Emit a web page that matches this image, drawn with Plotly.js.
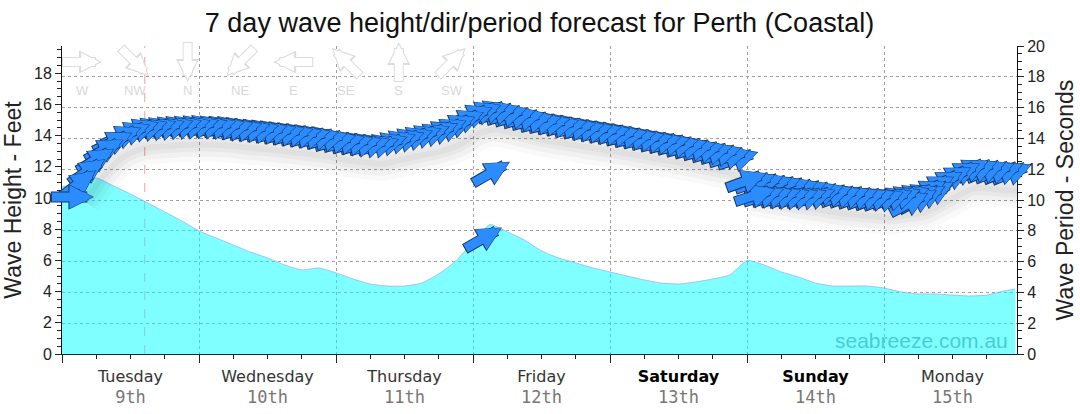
<!DOCTYPE html>
<html><head><meta charset="utf-8">
<script src="https://cdn.plot.ly/plotly-3.0.1.min.js"></script>
<style>html,body{margin:0;padding:0;background:#fff;} #chart{width:1080px;height:414px;}</style>
</head><body><div id="chart"></div>
<script>
// ---------------- DATA ----------------
const heightHours = [0,3,6,9,12,15,18,21,24,27,30,33,36,39,42,45,48,51,54,57,60,63,66,69,72,75,78,81,84,87,90,93,96,99,102,105,108,111,114,117,120,123,126,129,132,135,138,141,144,147,150,153,156,159,162,165,167];
const heightFeet = [10.71,11.03,11.29,10.78,10.26,9.69,9.11,8.53,7.89,7.44,6.99,6.54,6.16,5.71,5.39,5.52,5.20,4.81,4.49,4.36,4.36,4.55,5.13,5.97,7.18,8.30,7.83,7.31,6.61,6.16,5.84,5.52,5.26,5.00,4.75,4.55,4.49,4.62,4.81,5.07,6.00,5.71,5.26,4.94,4.55,4.36,4.36,4.36,4.23,3.98,3.85,3.85,3.78,3.72,3.78,4.04,4.17];

const periodHours = [3,4.5,6,7.5,9,10.5,12,13.5,15,16.5,18,19.5,21,22.5,24,25.5,27,28.5,30,31.5,33,34.5,36,37.5,39,40.5,42,43.5,45,46.5,48,49.5,51,52.5,54,55.5,57,58.5,60,61.5,63,64.5,66,67.5,69,70.5,72,73.5,75,76.5,78,79.5,81,82.5,84,85.5,87,88.5,90,91.5,93,94.5,96,97.5,99,100.5,102,103.5,105,106.5,108,109.5,111,112.5,114,115.5,117,118.5,120,121.5,123,124.5,126,127.5,129,130.5,132,133.5,135,136.5,138,139.5,141,142.5,144,145.5,147,148.5,150,151.5,153,154.5,156,157.5,159,160.5,162,163.5,165,166.5];
const periodSeconds = [11.10,11.88,12.63,13.28,13.79,14.16,14.40,14.59,14.64,14.68,14.71,14.75,14.77,14.79,14.81,14.78,14.76,14.73,14.66,14.60,14.55,14.50,14.45,14.39,14.32,14.26,14.19,14.12,14.06,13.96,13.83,13.76,13.69,13.62,13.57,13.57,13.69,13.82,13.94,14.06,14.18,14.29,14.45,14.62,14.87,15.19,15.52,15.71,15.78,15.69,15.56,15.44,15.31,15.18,15.05,14.96,14.87,14.79,14.69,14.60,14.51,14.43,14.34,14.25,14.15,14.05,13.96,13.86,13.77,13.68,13.57,13.46,13.35,13.23,13.12,13.01,12.82,12.69,11.27,11.17,11.08,10.99,10.91,10.82,10.73,10.64,10.55,10.45,10.36,10.29,10.25,10.19,10.14,10.10,10.06,10.13,10.21,10.29,10.36,10.62,10.91,11.20,11.49,11.77,11.98,11.96,11.92,11.87,11.83,11.79];
const periodDirDeg = [233,236,239,242,245,247,249,
  251,252,252,253,253,253,254,254,254,254,255,255,255,255,255,255,255,255,255,255,255,255,255,255,
  255,255,255,254,254,253,252,252,251,250,249,248,247,247,248,249,
  250,251,252,253,254,255,256,256,257,257,257,257,257,257,257,257,257,257,257,257,257,256,256,256,255,255,255,254,254,253,252,
  250,250,250,250,250,250,250,250,250,250,250,250,250,250,250,250,250,250,250,250,248,246,244,243,243,244,245,246,247,248,248,248];

// second (lower) row of period arrows
const period2Hours = [121.5,123,124.5,126,127.5,129,130.5,132,148.5,150,151.5,153];
const period2Seconds = [10.32,10.29,10.26,10.23,10.19,10.19,10.19,10.23,9.81,10.00,10.26,10.52];
const period2DirDeg = [252,252,252,252,252,252,252,252,242,242,242,242];

// isolated swell arrows
const swellMarkHours = [1.9, 73.9];
const swellMarkFeet = [10.07, 7.44];
const swellMarkDirDeg = [270, 240];
const swellPeriodMarkHours = [75.3];
const swellPeriodMarkSeconds = [11.8];
const swellPeriodMarkDirDeg = [240];

const dayNames = ['Tuesday','Wednesday','Thursday','Friday','Saturday','Sunday','Monday'];
const dayDates = ['9th','10th','11th','12th','13th','14th','15th'];
const dayWeekend = [false,false,false,false,true,true,false];

const compassLabels = ['W','NW','N','NE','E','SE','S','SW'];
const compassDirDeg = [270,315,0,45,90,135,180,225];

const nowHour = 14.5;
const xEnd = 167.3;

// ---------------- STYLE / HELPERS ----------------
const PLOT_L = 62, PLOT_R = 1017, PLOT_T = 46, PLOT_B = 354;
const ARROW = {len: 42, w: 9, s: 0.52, fill: '#2a8cff', edge: '#1a3563'};

function arrowAnn(x, y, xref, yref, dirDeg, len, width, size, color, extraTail, tipBack) {
  const a = (270 - dirDeg) * Math.PI / 180;
  const c = Math.cos(a), s = Math.sin(a);
  const tipOff = len / 2 - tipBack;
  const tl = len - tipBack + extraTail;
  return {x: x, y: y, xref: xref, yref: yref, text: '', showarrow: true, arrowhead: 2,
    arrowsize: size, arrowwidth: width, arrowcolor: color,
    ax: -tl * c, ay: tl * s, axref: 'pixel', ayref: 'pixel',
    xshift: tipOff * c, yshift: tipOff * s, standoff: 0, startstandoff: 0,
    font: {size: 1}, borderpad: 0, borderwidth: 0};
}
function solidArrow(list, x, y, xref, yref, dirDeg, st) {
  const sO = (5 * st.w * st.s + 2) / (5 * (st.w + 2));
  list.push(arrowAnn(x, y, xref, yref, dirDeg, st.len, st.w + 2, sO, st.edge, 1, 0));
  list.push(arrowAnn(x, y, xref, yref, dirDeg, st.len, st.w, st.s, st.fill, 0, 1));
}

const annotations = [];

// period arrows, drawn right to left so the left ones sit on top
const allPeriod = [];
periodHours.forEach((h, i) => allPeriod.push([h, periodSeconds[i], periodDirDeg[i]]));
period2Hours.forEach((h, i) => allPeriod.push([h, period2Seconds[i], period2DirDeg[i]]));
allPeriod.sort((a, b) => b[0] - a[0]);
allPeriod.forEach(p => solidArrow(annotations, p[0], p[1], 'x', 'y2', p[2], ARROW));
swellPeriodMarkHours.forEach((h, i) => solidArrow(annotations, h, swellPeriodMarkSeconds[i], 'x', 'y2', swellPeriodMarkDirDeg[i], ARROW));
swellMarkHours.forEach((h, i) => solidArrow(annotations, h, swellMarkFeet[i], 'x', 'y', swellMarkDirDeg[i], ARROW));

// compass legend (hollow light-grey arrows)
const W = PLOT_R - PLOT_L, H = PLOT_B - PLOT_T;
compassLabels.forEach((lab, i) => {
  const cx = 82 + i * 52.8, cy = 62, ly = 90;
  const px = (cx - PLOT_L) / W, py = (PLOT_B - cy) / H;
  annotations.push(arrowAnn(px, py, 'paper', 'paper', compassDirDeg[i], 40, 10, 0.46, '#dcdcdc', 0, 0));
  annotations.push(arrowAnn(px, py, 'paper', 'paper', compassDirDeg[i], 40, 8, 0.46, '#ffffff', -1, 2.5));
  annotations.push({x: px, y: (PLOT_B - ly) / H, xref: 'paper', yref: 'paper', text: lab, showarrow: false,
    font: {family: 'Liberation Sans, Arial', size: 13, color: '#d8d8d8'}, xanchor: 'center', yanchor: 'middle'});
});

// watermark
annotations.push({x: (1010 - PLOT_L) / W, y: (PLOT_B - 340) / H, xref: 'paper', yref: 'paper', text: 'seabreeze.com.au',
  showarrow: false, xanchor: 'right', yanchor: 'middle',
  font: {family: 'Liberation Sans, Arial', size: 21, color: 'rgba(30,170,185,0.6)'}});

// soft shadow under the period arrows
const shadowX = [], shadowY = [];
periodHours.forEach((h, i) => {
  if (i > 0 && Math.abs(periodSeconds[i] - periodSeconds[i - 1]) > 1) { shadowX.push(null); shadowY.push(null); }
  shadowX.push(h + 1); shadowY.push(periodSeconds[i] - 1.2);
});
const shadowTraces = [[34, 0.025], [24, 0.03], [14, 0.035], [6, 0.03]].map(p => ({
  type: 'scatter', mode: 'lines', x: shadowX, y: shadowY, xaxis: 'x', yaxis: 'y2',
  line: {color: 'rgba(0,0,0,' + p[1] + ')', width: p[0], shape: 'spline'}, hoverinfo: 'skip'}));

const traces = [
  {type: 'scatter', mode: 'lines', x: heightHours, y: heightFeet, xaxis: 'x', yaxis: 'y',
   fill: 'tozeroy', fillcolor: 'rgba(0,255,255,0.5)',
   line: {color: 'rgba(140,170,255,0.7)', width: 1, shape: 'spline', smoothing: 0.5}, hoverinfo: 'skip'}
].concat(shadowTraces).concat([
  {type: 'scatter', mode: 'markers', x: [0], y: [null], xaxis: 'x2', yaxis: 'y', hoverinfo: 'skip'}
]);

const dayMid = dayNames.map((d, i) => i * 24 + 12);
const dayText = dayNames.map((d, i) =>
  (dayWeekend[i] ? '<b><span style="color:#000">' + d + '</span></b>' : d) +
  '<br><span style="color:#777;font-family:DejaVu Sans Mono;font-size:17px">' + dayDates[i] + '</span>');

const axisFont = {family: 'Liberation Sans, Arial', size: 16, color: '#222'};
const layout = {
  width: 1080, height: 414,
  margin: {l: PLOT_L, r: 1080 - PLOT_R, t: PLOT_T, b: 414 - PLOT_B, pad: 0},
  paper_bgcolor: '#fff', plot_bgcolor: '#fff', showlegend: false,
  title: {text: '7 day wave height/dir/period forecast for Perth (Coastal)',
    font: {family: 'Liberation Sans, Arial', size: 27, color: '#111'},
    x: 0.5, xanchor: 'center', xref: 'paper', y: 1 - 23 / 414, yanchor: 'middle', yref: 'container'},
  xaxis: {range: [0, xEnd], tickmode: 'linear', tick0: 0, dtick: 24, showticklabels: false,
    ticks: 'outside', ticklen: 8, tickcolor: '#222', tickwidth: 1,
    showline: true, linecolor: '#0d2550', linewidth: 1,
    showgrid: true, gridcolor: '#a0a0a0', griddash: 'dot', gridwidth: 1, zeroline: false,
    minor: {tickmode: 'linear', tick0: 0, dtick: 6, ticks: 'outside', ticklen: 4, tickcolor: '#222', showgrid: false}},
  xaxis2: {overlaying: 'x', side: 'bottom', anchor: 'y', range: [0, xEnd],
    tickmode: 'array', tickvals: dayMid, ticktext: dayText, ticks: '', showline: false,
    showgrid: false, zeroline: false, ticklabelstandoff: 11,
    tickfont: {family: 'DejaVu Sans', size: 16, color: '#333'}},
  yaxis: {range: [0, 19.75], tickmode: 'linear', tick0: 0, dtick: 2,
    ticks: 'outside', ticklen: 6, tickcolor: '#222', showline: true, linecolor: '#111', linewidth: 1,
    showgrid: false, zeroline: false, tickfont: axisFont,
    minor: {tickmode: 'linear', tick0: 0, dtick: 0.5, ticks: 'outside', ticklen: 4, tickcolor: '#222', showgrid: false},
    title: {text: 'Wave Height - Feet', font: {family: 'Liberation Sans, Arial', size: 23, color: '#222'}, standoff: 8}},
  yaxis2: {overlaying: 'y', side: 'right', anchor: 'x', range: [0, 20], tickmode: 'linear', tick0: 0, dtick: 2,
    ticks: 'outside', ticklen: 6, tickcolor: '#222', showline: true, linecolor: '#111', linewidth: 1,
    showgrid: true, gridcolor: '#a0a0a0', griddash: 'dot', gridwidth: 1, zeroline: false, tickfont: axisFont,
    minor: {tickmode: 'linear', tick0: 0, dtick: 0.5, ticks: 'outside', ticklen: 4, tickcolor: '#222', showgrid: false},
    title: {text: 'Wave Period - Seconds', font: {family: 'Liberation Sans, Arial', size: 23, color: '#222'}, standoff: 12}},
  shapes: [{type: 'line', xref: 'x', yref: 'paper', x0: nowHour, x1: nowHour, y0: 0, y1: 1,
    line: {color: '#f2a0a0', width: 1, dash: 'dash'}, layer: 'below'}],
  annotations: annotations
};

Plotly.newPlot('chart', traces, layout, {displayModeBar: false, staticPlot: true});
</script>
</body></html>
